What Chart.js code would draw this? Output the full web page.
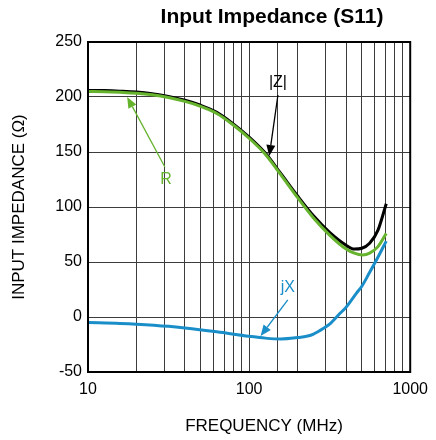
<!DOCTYPE html>
<html>
<head>
<meta charset="utf-8">
<script src="https://cdn.jsdelivr.net/npm/chart.js@4/dist/chart.umd.min.js"></script>
<style>
html,body{margin:0;padding:0;background:#fff;}
#wrap{width:436px;height:440px;position:relative;}
</style>
</head>
<body>
<div id="wrap"><canvas id="c" width="436" height="440"></canvas></div>
<script>
// ---- Data ----
const zFreq  = [10, 12.6, 15.8, 20, 25, 31.6, 40, 50, 63, 79, 100, 126, 158, 200, 251, 316, 398, 450, 501, 560, 631, 710];
const zVals  = [206, 205.8, 205.3, 204.5, 203, 200.5, 197, 192.5, 186, 176, 163.5, 149, 130, 110, 92, 77, 65.5, 61.8, 62.5, 67, 79, 103];

const rFreq  = [10, 12.6, 15.8, 20, 25, 31.6, 40, 50, 63, 79, 100, 126, 158, 200, 251, 316, 398, 450, 506, 560, 631, 710];
const rVals  = [205, 204.8, 204.3, 203.5, 202, 199.5, 196, 191.5, 185, 175, 162.5, 148, 129, 108.5, 90, 74.5, 62, 58, 56.4, 58, 64, 76];

const xFreq  = [10, 15.8, 20, 31.6, 40, 63, 100, 126, 158, 200, 231, 251, 290, 316, 367, 398, 463, 501, 556, 617, 710];
const xVals  = [-5, -5.8, -6.5, -8.5, -10, -13.5, -17.5, -19.2, -20, -18.7, -17.3, -15.5, -10.3, -6.5, 3.4, 8.5, 21.5, 28, 39.7, 51.8, 69];

const yTicks = [-50, 0, 50, 100, 150, 200, 250];
const xMajor = [10, 100, 1000];

const titleText = 'Input Impedance (S11)';
const xTitle = 'FREQUENCY (MHz)';
const yTitle = 'INPUT IMPEDANCE (\u03A9)';

// annotation labels: [text, labelF, labelV, startF, startV, tipF, tipV, color]
const notes = [
  ['|Z|', 151, 212.7, 151, 201.8, 133.4, 146.4, '#000000'],
  ['R',   30.5, 124.5, 30.0, 136.4, 17.5, 200,  '#66b32e'],
  ['jX',  173.8, 26.4, 173.8, 15.5, 117.8, -17.3, '#1a8ec8']
];

const toPts = (f, v) => f.map((x, i) => ({x: x, y: v[i]}));

const FONT = '"Liberation Sans", Arial, sans-serif';
const GRID = '#3c3c3c';

const overlay = {
  id: 'overlay',
  afterDraw(chart) {
    const ctx = chart.ctx;
    const a = chart.chartArea;
    const xs = chart.scales.x, ys = chart.scales.y;
    ctx.save();
    // frame
    ctx.strokeStyle = '#000';
    ctx.lineWidth = 2;
    ctx.strokeRect(a.left, a.top, a.right - a.left, a.bottom - a.top);
    // title
    ctx.fillStyle = '#000';
    ctx.font = 'bold 21px ' + FONT;
    ctx.textAlign = 'center';
    ctx.textBaseline = 'middle';
    ctx.fillText(titleText, 272, 17);
    // axis titles
    ctx.font = '17px ' + FONT;
    ctx.fillText(xTitle, 264, 426);
    ctx.save();
    ctx.translate(19, (a.top + a.bottom) / 2);
    ctx.rotate(-Math.PI / 2);
    ctx.fillText(yTitle, 0, 0);
    ctx.restore();
    // annotations
    notes.forEach(n => {
      const [txt, lf, lv, sf, sv, tf, tv, col] = n;
      const lx = xs.getPixelForValue(lf), ly = ys.getPixelForValue(lv);
      const sx = xs.getPixelForValue(sf), sy = ys.getPixelForValue(sv);
      const tx = xs.getPixelForValue(tf), ty = ys.getPixelForValue(tv);
      ctx.fillStyle = col;
      ctx.strokeStyle = col;
      ctx.font = '16px ' + FONT;
      ctx.textAlign = 'center';
      ctx.textBaseline = 'middle';
      ctx.fillText(txt, lx, ly);
      const ang = Math.atan2(ty - sy, tx - sx);
      const hl = 11, hw = 4.5;
      const bx = tx - hl * Math.cos(ang), by = ty - hl * Math.sin(ang);
      ctx.lineWidth = 1.3;
      ctx.beginPath();
      ctx.moveTo(sx, sy);
      ctx.lineTo(bx, by);
      ctx.stroke();
      ctx.beginPath();
      ctx.moveTo(tx, ty);
      ctx.lineTo(bx + hw * Math.sin(ang), by - hw * Math.cos(ang));
      ctx.lineTo(bx - hw * Math.sin(ang), by + hw * Math.cos(ang));
      ctx.closePath();
      ctx.fill();
    });
    ctx.restore();
  }
};

new Chart(document.getElementById('c'), {
  type: 'line',
  data: {
    datasets: [
      {label: 'jX', data: toPts(xFreq, xVals), borderColor: '#1a8ec8', order: 0},
      {label: 'R', data: toPts(rFreq, rVals), borderColor: '#66b32e', order: 1},
      {label: '|Z|', data: toPts(zFreq, zVals), borderColor: '#000000', order: 2}
    ]
  },
  options: {
    responsive: false,
    animation: false,
    events: [],
    layout: {padding: {top: 42, right: 17, left: 0, bottom: 0}},
    elements: {
      point: {radius: 0},
      line: {borderWidth: 3, cubicInterpolationMode: 'monotone', fill: false, borderCapStyle: 'butt'}
    },
    plugins: {legend: {display: false}, tooltip: {enabled: false}, title: {display: false}},
    scales: {
      x: {
        type: 'logarithmic',
        min: 10, max: 1000,
        afterFit(s) { s.height = 68; },
        grid: {color: GRID, lineWidth: 1, drawTicks: false},
        border: {display: false},
        ticks: {
          autoSkip: false, maxRotation: 0, padding: 8,
          color: '#000', font: {family: FONT, size: 16},
          callback(v) { return xMajor.includes(v) ? String(v) : ''; }
        },
        title: {display: false}
      },
      y: {
        type: 'linear',
        min: -50, max: 250,
        afterFit(s) { s.width = 88; },
        afterBuildTicks(s) { s.ticks = yTicks.map(v => ({value: v})); },
        grid: {color: GRID, lineWidth: 1, drawTicks: false},
        border: {display: false},
        ticks: {padding: 6, color: '#000', font: {family: FONT, size: 16}},
        title: {display: false}
      }
    }
  },
  plugins: [overlay]
});
</script>
</body>
</html>
